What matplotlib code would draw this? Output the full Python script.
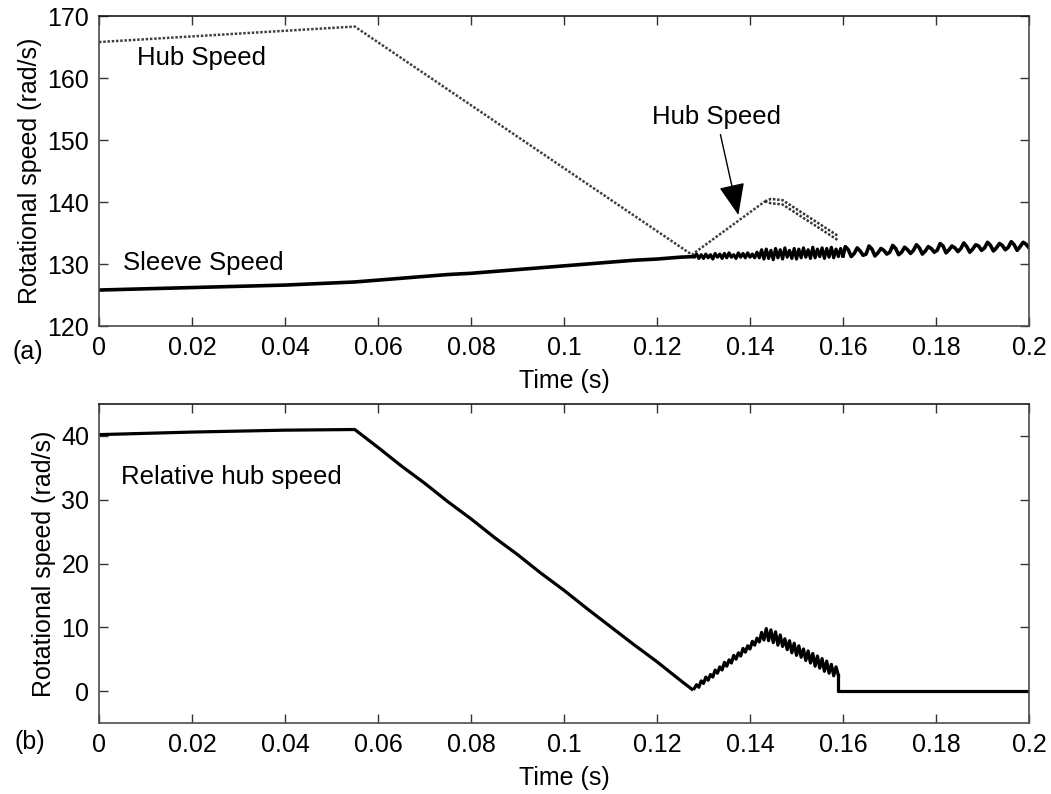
import numpy as np
import matplotlib
matplotlib.use("Agg")
import matplotlib.pyplot as plt

plt.rcParams['font.family'] = ['Liberation Sans', 'DejaVu Sans']

# ---------------- data ----------------
# (a) hub speed
hub_t = [0.0, 0.055, 0.1275, 0.1432]
hub_v = [165.8, 168.3, 131.5, 140.1]
hub_band_t = [0.1432, 0.1445, 0.147, 0.159]
hub_band_hi = [140.1, 140.5, 140.3, 134.5]
hub_band_lo = [140.1, 139.8, 139.6, 133.8]

# (a) sleeve speed
sleeve_t0 = [0.0, 0.02, 0.04, 0.055, 0.06, 0.065, 0.07, 0.075, 0.08, 0.085, 0.09,
             0.095, 0.1, 0.105, 0.11, 0.115, 0.12, 0.125, 0.128]
sleeve_v0 = [125.8, 126.2, 126.6, 127.1, 127.4, 127.7, 128.0, 128.3, 128.5, 128.8, 129.1,
             129.4, 129.7, 130.0, 130.3, 130.6, 130.8, 131.1, 131.2]
sleeve_vA = [131.2, 131.6, 130.9, 131.5, 130.9, 131.6, 131.0, 131.5, 130.8, 131.7,
             131.1, 131.6, 130.9, 131.7, 131.0, 131.8, 131.1, 131.5, 130.9, 131.8,
             131.1, 131.7, 131.0, 131.8, 131.1, 131.6, 131.0, 131.9, 131.0, 132.3,
             130.8, 132.4, 130.9, 132.2, 130.7, 132.5, 131.0, 132.3, 130.8, 132.6,
             131.1, 132.2, 130.9, 132.5, 130.8, 132.4, 131.0, 132.6, 131.1, 132.3,
             130.9, 132.7, 131.0, 132.4, 131.2, 132.6, 130.9, 132.5, 131.1, 132.7,
             131.0, 132.4, 131.2, 132.5, 131.3]
sleeve_vB = [132.8, 132.3, 131.2, 131.7, 132.6, 132.1, 131.4, 131.6, 132.9, 132.4, 131.3, 131.8,
             132.5, 132.2, 131.6, 131.9, 133.0, 132.5, 131.5, 131.9, 132.7, 132.3, 131.7, 132.2,
             133.1, 132.6, 131.6, 132.1, 132.8, 132.5, 131.9, 132.2, 133.3, 132.9, 131.8, 132.3,
             132.9, 132.6, 132.0, 132.5, 133.4, 132.8, 131.9, 132.4, 133.1, 132.9, 132.2, 132.6,
             133.5, 133.0, 132.1, 132.6, 133.3, 133.0, 132.3, 132.7, 133.6, 133.1, 132.2, 132.8,
             133.5, 133.2, 132.6]

# (b) relative hub speed
rel_t0 = [0.0, 0.02, 0.04, 0.055, 0.06, 0.065, 0.07, 0.075, 0.08, 0.085, 0.09,
          0.095, 0.1, 0.105, 0.11, 0.115, 0.12, 0.125, 0.1275]
rel_v0 = [40.2, 40.6, 40.9, 41.0, 38.2, 35.3, 32.6, 29.7, 27.0, 24.1, 21.4,
          18.5, 15.8, 12.9, 10.1, 7.3, 4.6, 1.7, 0.3]
rel_vA = [0.4, 1.0, 0.6, 1.6, 1.2, 2.2, 1.7, 2.6, 2.2, 3.3,
          2.8, 3.8, 3.3, 4.5, 3.9, 4.9, 4.4, 5.6, 5.0, 6.0,
          5.5, 6.7, 6.1, 7.1, 6.6, 7.8, 7.2, 8.3, 7.7, 9.2,
          8.0, 9.8, 7.9, 9.6, 7.6, 9.3, 7.2, 8.8, 7.0, 8.2,
          6.5, 7.9, 6.0, 7.5, 5.6, 7.1, 5.3, 6.6, 4.8, 6.3,
          4.4, 5.9, 3.9, 5.5, 3.6, 5.1, 3.1, 4.7, 2.8, 4.2,
          2.4, 3.8, 2.5]
rel_t1 = [0.159, 0.159, 0.2]
rel_v1 = [2.5, 0.0, 0.0]

xticks = [0, 0.02, 0.04, 0.06, 0.08, 0.1, 0.12, 0.14, 0.16, 0.18, 0.2]
xticklabels = ['0', '0.02', '0.04', '0.06', '0.08', '0.1', '0.12', '0.14', '0.16', '0.18', '0.2']
yticks_a = [120, 130, 140, 150, 160, 170]
yticks_b = [0, 10, 20, 30, 40]

# sample times of the oscillating parts
sleeve_tA = np.linspace(0.128, 0.160, len(sleeve_vA))
sleeve_tB = np.linspace(0.1605, 0.2, len(sleeve_vB))
rel_tA = np.linspace(0.128, 0.159, len(rel_vA))

# ---------------- figure ----------------
fig = plt.figure(figsize=(10.51, 7.94), dpi=100)
ax1 = fig.add_axes([99/1051, 1-326/794, 930/1051, 310/794])
ax2 = fig.add_axes([99/1051, 1-723/794, 930/1051, 319/794])

FS = 18
spine_c = '0.3'

def style(ax):
    for s in ax.spines.values():
        s.set_color(spine_c)
        s.set_linewidth(1.2)
    ax.spines['top'].set_color('0.1')
    ax.tick_params(direction='in', length=6.5, width=1.0, color='0.2',
                   top=True, right=True, labelsize=FS, pad=7)
    ax.set_xlim(0, 0.2)
    ax.set_xticks(xticks)
    ax.set_xticklabels(xticklabels)
    ax.set_xlabel('Time (s)', fontsize=FS, labelpad=7)
    ax.set_ylabel('Rotational speed (rad/s)', fontsize=FS, labelpad=4)

# panel (a)
hub_ls = (0, (1, 0.7))
ax1.plot(hub_t, hub_v, color='0.25', lw=1.8, linestyle=hub_ls)
ax1.plot(hub_band_t, hub_band_hi, color='0.2', lw=1.8, linestyle=hub_ls)
ax1.plot(hub_band_t, hub_band_lo, color='0.2', lw=1.8, linestyle=hub_ls)
ax1.plot(sleeve_t0, sleeve_v0, color='k', lw=2.6)
ax1.plot(sleeve_tA, sleeve_vA, color='k', lw=2.3)
ax1.plot(np.concatenate([[0.160], sleeve_tB]), [sleeve_vA[-1]] + sleeve_vB, color='k', lw=2.6)
ax1.set_ylim(120, 170)
ax1.set_yticks(yticks_a)
style(ax1)

ax1.text(0.0081, 163.2, 'Hub Speed', fontsize=18.5, va='center', ha='left')
ax1.text(0.0052, 130.2, 'Sleeve Speed', fontsize=18.5, va='center', ha='left')
ax1.annotate('Hub Speed', xy=(0.1375, 137.9), xytext=(0.1328, 153.7),
             fontsize=18.5, ha='center', va='center',
             arrowprops=dict(arrowstyle='-|>,head_length=1.1,head_width=0.45',
                             color='k', lw=1.0, shrinkA=2, shrinkB=0,
                             mutation_scale=18))
fig.text(28/1051, 1-352/794, '(a)', fontsize=FS, ha='center', va='center')

# panel (b)
ax2.plot(rel_t0, rel_v0, color='k', lw=2.3)
ax2.plot(rel_tA, rel_vA, color='k', lw=2.3)
ax2.plot(rel_t1, rel_v1, color='k', lw=2.3)
ax2.set_ylim(-5, 45)
ax2.set_yticks(yticks_b)
style(ax2)
ax2.text(0.0048, 33.5, 'Relative hub speed', fontsize=18.5, va='center', ha='left')
fig.text(30/1051, 1-742/794, '(b)', fontsize=FS, ha='center', va='center')

fig.savefig('out.png', dpi=100)
